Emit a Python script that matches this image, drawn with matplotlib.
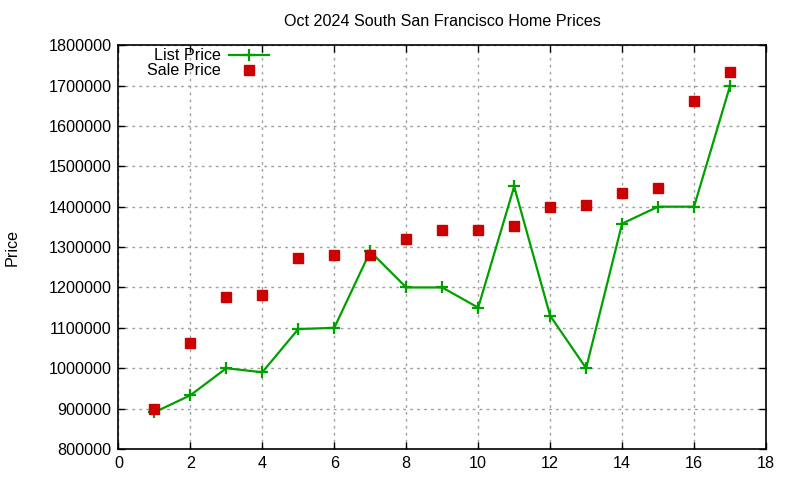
import matplotlib
matplotlib.use("Agg")
import matplotlib.pyplot as plt

plt.rcParams['font.family'] = ['Liberation Sans', 'DejaVu Sans']

# Datos
casas = list(range(1, 18))
precio_lista = [891000, 933000, 1000000, 990000, 1097000, 1100000, 1289000, 1200000,
                1200000, 1150000, 1450000, 1130000, 1000000, 1358000, 1400000, 1400000,
                1699000]
precio_venta = [899000, 1063000, 1177000, 1182000, 1272000, 1281000, 1281000, 1321000,
                1341000, 1341000, 1351000, 1400000, 1403000, 1433000, 1445000, 1661000,
                1733000]
yticks = list(range(800000, 1800001, 100000))
xticks = list(range(0, 19, 2))

fig = plt.figure(figsize=(8, 4.8), dpi=100)
ax = fig.add_axes([0.148, 0.0646, 0.8095, 0.8414])

ax.plot(casas, precio_lista, color='#00a000', linewidth=1.6, marker='+',
        markersize=8, markeredgewidth=1.6, label='List Price', zorder=3)
ax.plot(casas, precio_venta, color='#cc0000', linestyle='none', marker='s',
        markersize=6.5, label='Sale Price', zorder=4)

ax.set_xlim(0, 18)
ax.set_ylim(800000, 1800000)
ax.set_xticks(xticks)
ax.set_yticks(yticks)
ax.set_yticklabels([str(v) for v in yticks])
ax.tick_params(direction='in', top=True, right=True, labelsize=11.6, length=5,
               width=1, pad=5)
ax.grid(True, color='#a0a0a0', linestyle=(0, (2, 3)), linewidth=1)
for s in ax.spines.values():
    s.set_linewidth(1.2)

ax.set_title('Oct 2024 South San Francisco Home Prices', fontsize=11.6, pad=14)
ax.set_ylabel('Price', fontsize=11.6, labelpad=21)

leg = ax.legend(loc='upper right', bbox_to_anchor=(0.25, 1.02), frameon=False,
                markerfirst=False, fontsize=11.6, handlelength=2.5,
                handletextpad=0.5, labelspacing=0.0, borderpad=0.2)

fig.savefig('out.png', dpi=100)
